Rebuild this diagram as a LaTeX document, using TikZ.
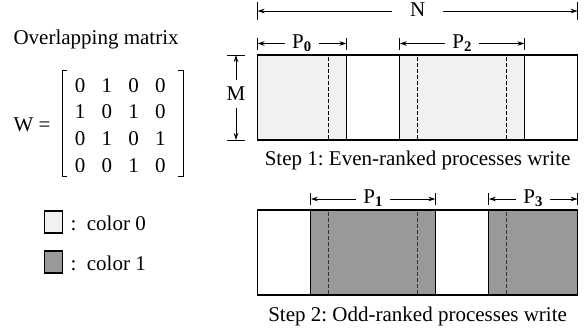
\documentclass[tikz,border=0pt]{standalone}
\usepackage{fontspec}
\setmainfont{Liberation Serif}
\usetikzlibrary{arrows.meta}

\definecolor{colzero}{HTML}{F1F1F1}
\definecolor{colone}{HTML}{999999}

\begin{document}
\frenchspacing
\begin{tikzpicture}[x=1pt, y=-1pt, line width=1.1pt,
  txt/.style={font=\fontsize{21}{25}\selectfont, inner sep=0pt},
  dimline/.style={{Stealth[length=7pt,width=4.5pt]}-{Stealth[length=7pt,width=4.5pt]}, line width=0.9pt},
  tick/.style={line width=0.9pt},
  dimlabel/.style={txt, fill=white, inner xsep=7pt},
  partline/.style={line width=1.1pt},
  seam/.style={dashed, dash pattern=on 3.5pt off 2.5pt, line width=0.9pt},
  lightfill/.style={fill=colzero},
  darkfill/.style={fill=colone},
  legendbox/.style={draw, line width=1.1pt, minimum width=18pt, minimum height=22pt, inner sep=0pt}]
\useasboundingbox (0,0) rectangle (588,335);

% column positions in units of the block width
\def\ux{17.79}
\def\xo{257.5}
\foreach \k in {0,3,4,5,8,9,10,13,14,15,18}{
  \pgfmathsetmacro{\xx}{\xo+\k*\ux}
  \expandafter\xdef\csname cx\k\endcsname{\xx}
}

% ---------- left side: overlap matrix ----------
\node[txt, anchor=base west] (title) at (13,44) {Overlapping matrix};
\node[txt, anchor=west] (weq) at (13,125) {W =};
\foreach \r/\row in {1/{0,1,0,0}, 2/{1,0,1,0}, 3/{0,1,0,1}, 4/{0,0,1,0}}{
  \foreach \v [count=\c] in \row {
    \pgfmathsetmacro{\mx}{53.5+26.7*\c}
    \pgfmathsetmacro{\my}{58.5+26.7*\r}
    \node[txt] (m\r\c) at (\mx,\my) {\v};
  }
}
\coordinate (lbt) at (62,70);
\coordinate (lbb) at (62,176);
\coordinate (rbt) at (183,70);
\coordinate (rbb) at (183,176);
\draw[line width=0.9pt] ([xshift=5pt]lbt) -- (lbt) -- (lbb) -- ([xshift=5pt]lbb);
\draw[line width=0.9pt] ([xshift=-5pt]rbt) -- (rbt) -- (rbb) -- ([xshift=-5pt]rbb);

% legend
\node[legendbox, lightfill] (leg0) at (53.5,222) {};
\node[txt, anchor=base west] (leg0t) at (70,230) {:\ \ color 0};
\node[legendbox, darkfill] (leg1) at (53.5,262) {};
\node[txt, anchor=base west] (leg1t) at (70,270) {:\ \ color 1};

% ---------- step 1 ----------
\fill[colzero] (\csname cx0\endcsname,55) rectangle (\csname cx5\endcsname,140);
\fill[colzero] (\csname cx8\endcsname,55) rectangle (\csname cx15\endcsname,140);
\foreach \k in {4,9,14}
  \draw[seam] (\csname cx\k\endcsname,57) -- (\csname cx\k\endcsname,140);
\foreach \k in {5,8,15}
  \draw[partline] (\csname cx\k\endcsname,55) -- (\csname cx\k\endcsname,140);
\draw[partline] (\csname cx0\endcsname,55) rectangle (\csname cx18\endcsname,140);
\node[txt, anchor=base] (cap1) at (417.6,165) {Step 1: Even-ranked processes write};

% ---------- step 2 ----------
\fill[colone] (\csname cx3\endcsname,210) rectangle (\csname cx10\endcsname,295);
\fill[colone] (\csname cx13\endcsname,210) rectangle (\csname cx18\endcsname,295);
\foreach \k in {4,9,14}
  \draw[seam, black!80] (\csname cx\k\endcsname,212) -- (\csname cx\k\endcsname,295);
\foreach \k in {3,10,13}
  \draw[partline] (\csname cx\k\endcsname,210) -- (\csname cx\k\endcsname,295);
\draw[partline] (\csname cx0\endcsname,210) rectangle (\csname cx18\endcsname,295);
\node[txt, anchor=base] (cap2) at (417.6,321) {Step 2: Odd-ranked processes write};

% ---------- dimension arrows ----------
% N across the full width
\coordinate (nl) at (\csname cx0\endcsname,11);
\coordinate (nr) at (\csname cx18\endcsname,11);
\draw[tick] (\csname cx0\endcsname,2) -- (\csname cx0\endcsname,20);
\draw[tick] (\csname cx18\endcsname,2) -- (\csname cx18\endcsname,20);
\draw[dimline] (nl) -- (nr);
\node[txt, fill=white, inner xsep=18pt, anchor=base] (nlab) at (417.6,16) {N};

% M over the height
\coordinate (mtop) at (236,55);
\coordinate (mbot) at (236,140);
\draw[tick] (227,55) -- (245,55);
\draw[tick] (227,140) -- (245,140);
\draw[dimline] (mtop) -- (mbot);
\node[txt, fill=white, inner ysep=7pt] (mlab) at (236,94) {M};

% partitions P0..P3
\foreach \name/\a/\b/\y in {0/0/5/43.5, 2/8/15/43.5, 1/3/10/199, 3/13/18/199}{
  \coordinate (p\name l) at (\csname cx\a\endcsname,\y);
  \coordinate (p\name r) at (\csname cx\b\endcsname,\y);
  \draw[tick] ([yshift=6pt]p\name l) -- ([yshift=-6pt]p\name l);
  \draw[tick] ([yshift=6pt]p\name r) -- ([yshift=-6pt]p\name r);
  \draw[dimline] (p\name l) -- (p\name r);
  \path (p\name l) -- (p\name r) coordinate[pos=0.5] (p\name m);
  \node[dimlabel, anchor=base] (p\name lab) at ([yshift=-4.5pt]p\name m) {P\textsubscript{\textbf{\name}}};
}
\end{tikzpicture}
\end{document}
